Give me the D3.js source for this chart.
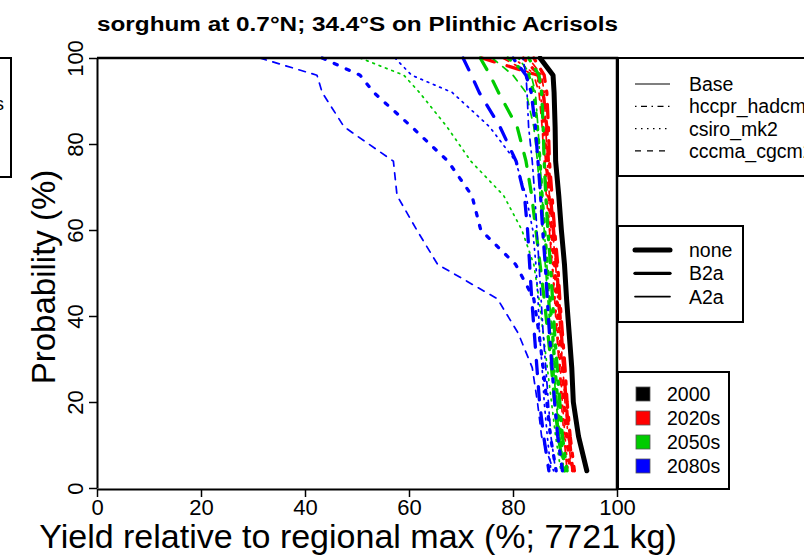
<!DOCTYPE html>
<html>
<head>
<meta charset="utf-8">
<script src="https://cdn.jsdelivr.net/npm/d3@7"></script>
<style>
  body { margin: 0; background: #fff; }
  svg { display: block; font-family: "Liberation Sans", Arial, sans-serif; }
</style>
</head>
<body>
<div id="chart"></div>
<script>
// probability levels (%) at which the yields were read
const probLevels = [100, 96, 92, 84, 76, 68, 60, 52, 44, 36, 28, 20, 12, 4];

// yield relative to regional max (%) at each probability level
const base2000 = [85.2, 87.7, 87.9, 88.1, 88.2, 88.8, 89.3, 89.9, 90.3, 90.8, 91.3, 91.6, 92.6, 94.2];

const red_hccpr_B2a = [84, 86, 86.5, 86.8, 87, 87.5, 88, 88.6, 89, 89.5, 90, 90.4, 91, 91.8];
const red_hccpr_A2a = [83, 85.5, 86, 86.3, 86.6, 87, 87.6, 88.2, 88.6, 89.1, 89.6, 90, 90.6, 91.3];
const red_csiro_B2a = [82, 85, 85.6, 86, 86.4, 86.9, 87.4, 88, 88.4, 88.9, 89.4, 89.8, 90.3, 91];
const red_csiro_A2a = [80, 84.5, 85.3, 85.8, 86.2, 86.6, 87.1, 87.6, 88.1, 88.6, 89.1, 89.5, 90, 90.6];
const red_cccma_B2a = [74, 84.8, 85.8, 86.5, 86.8, 87.2, 87.8, 88.4, 88.8, 89.3, 89.8, 90.2, 90.8, 91.5];
const red_cccma_A2a = [78, 84, 85, 85.6, 86, 86.4, 87, 87.5, 88, 88.4, 88.9, 89.3, 89.8, 90.4];

const green_hccpr_B2a = [83, 85, 85.5, 85.8, 86, 86.3, 86.7, 87.2, 87.6, 88, 88.5, 89, 89.5, 90.4];
const green_hccpr_A2a = [81, 83.5, 84.3, 84.8, 85.2, 85.6, 86, 86.5, 87, 87.5, 88, 88.5, 89, 89.8];
const green_csiro_B2a = [79, 83, 84, 84.7, 85.2, 85.6, 86.1, 86.6, 87.1, 87.6, 88.1, 88.6, 89.2, 90];
const green_csiro_A2a = [50.6, 59, 62, 67.3, 71.9, 78.2, 81.7, 84, 85, 85.8, 86.6, 87.4, 88.2, 89.2];
const green_cccma_B2a = [73.7, 75.6, 77.2, 80.8, 82.5, 83.6, 84.4, 85.2, 86, 86.7, 87.4, 88, 88.7, 89.8];
const green_cccma_A2a = [76, 80, 82.5, 84, 84.7, 85.2, 85.7, 86.2, 86.7, 87.2, 87.8, 88.3, 88.9, 89.6];

const blue_hccpr_B2a = [80, 82.5, 83.5, 84.3, 84.8, 85.3, 85.7, 86.2, 86.6, 87, 87.5, 88, 88.6, 89.5];
const blue_hccpr_A2a = [81.9, 82.5, 82.7, 83, 83.7, 84.2, 84.6, 85, 85.4, 85.8, 86.3, 86.8, 87.3, 88.2];
const blue_csiro_B2a = [43.3, 50.6, 53.2, 60.5, 67.5, 72.1, 73.8, 80.5, 84, 85, 85.8, 86.5, 87.2, 88.3];
const blue_csiro_A2a = [57.3, 60.5, 68.3, 75.5, 80.5, 82.5, 83.8, 84.4, 84.8, 85.1, 85.6, 86, 86.6, 87.3];
const blue_cccma_B2a = [70.4, 72, 73.5, 77.5, 80.6, 82.2, 82.8, 83.2, 83.6, 84.1, 84.6, 85.1, 85.9, 86.9];
const blue_cccma_A2a = [31.3, 42.3, 43.3, 47.5, 57, 57.7, 61.5, 65.5, 77, 81, 83.7, 84.7, 85.5, 87.8];

const xTicks = [0, 20, 40, 60, 80, 100];
const yTicks = [0, 20, 40, 60, 80, 100];

const gcmNames = ["Base", "hccpr_hadcm3", "csiro_mk2", "cccma_cgcm2"];
const scenNames = ["none", "B2a", "A2a"];
const periodNames = ["2000", "2020s", "2050s", "2080s"];
const periodColors = ["#000000", "#ff0000", "#00cc00", "#0000ff"];

// line styles
const scenWidth = { none: 5, B2a: 3.3, A2a: 1.7 };
function dashFor(gcm, w) {
  if (gcm === "hccpr_hadcm3") return [1 * w, 3 * w, 4 * w, 3 * w].join(",");
  if (gcm === "csiro_mk2") return [1 * w, 3 * w].join(",");
  if (gcm === "cccma_cgcm2") return [4 * w, 4 * w].join(",");
  return null;
}

// table of series built from the arrays above
const series = [
  { period: "2020s", gcm: "hccpr_hadcm3", scen: "B2a", values: red_hccpr_B2a },
  { period: "2020s", gcm: "hccpr_hadcm3", scen: "A2a", values: red_hccpr_A2a },
  { period: "2020s", gcm: "csiro_mk2", scen: "B2a", values: red_csiro_B2a },
  { period: "2020s", gcm: "csiro_mk2", scen: "A2a", values: red_csiro_A2a },
  { period: "2020s", gcm: "cccma_cgcm2", scen: "B2a", values: red_cccma_B2a },
  { period: "2020s", gcm: "cccma_cgcm2", scen: "A2a", values: red_cccma_A2a },
  { period: "2050s", gcm: "hccpr_hadcm3", scen: "B2a", values: green_hccpr_B2a },
  { period: "2050s", gcm: "hccpr_hadcm3", scen: "A2a", values: green_hccpr_A2a },
  { period: "2050s", gcm: "csiro_mk2", scen: "B2a", values: green_csiro_B2a },
  { period: "2050s", gcm: "csiro_mk2", scen: "A2a", values: green_csiro_A2a },
  { period: "2050s", gcm: "cccma_cgcm2", scen: "B2a", values: green_cccma_B2a },
  { period: "2050s", gcm: "cccma_cgcm2", scen: "A2a", values: green_cccma_A2a },
  { period: "2080s", gcm: "hccpr_hadcm3", scen: "B2a", values: blue_hccpr_B2a },
  { period: "2080s", gcm: "hccpr_hadcm3", scen: "A2a", values: blue_hccpr_A2a },
  { period: "2080s", gcm: "csiro_mk2", scen: "B2a", values: blue_csiro_B2a },
  { period: "2080s", gcm: "csiro_mk2", scen: "A2a", values: blue_csiro_A2a },
  { period: "2080s", gcm: "cccma_cgcm2", scen: "B2a", values: blue_cccma_B2a },
  { period: "2080s", gcm: "cccma_cgcm2", scen: "A2a", values: blue_cccma_A2a },
  { period: "2000", gcm: "Base", scen: "none", values: base2000 }
];

const W = 804, H = 556;
const svg = d3.select("#chart").append("svg")
  .attr("width", W)
  .attr("height", H);

const x = d3.scaleLinear().domain([0, 100]).range([97, 617]);
const y = d3.scaleLinear().domain([0, 100]).range([488, 58]);
const color = d3.scaleOrdinal().domain(periodNames).range(periodColors);

// title
svg.append("text")
  .attr("x", 97)
  .attr("y", 31)
  .attr("font-size", "20px")
  .attr("font-weight", "bold")
  .attr("textLength", 521)
  .attr("lengthAdjust", "spacingAndGlyphs")
  .text("sorghum at 0.7°N; 34.4°S on Plinthic Acrisols");

// cut-off legend box from the neighbouring panel
svg.append("rect")
  .attr("x", -50).attr("y", 58)
  .attr("width", 61).attr("height", 119)
  .attr("fill", "none").attr("stroke", "#000").attr("stroke-width", 2);
svg.append("text")
  .attr("x", 4).attr("y", 110)
  .attr("text-anchor", "end")
  .attr("font-size", "19px")
  .text("s");

// clip for the curves
svg.append("clipPath").attr("id", "plotclip")
  .append("rect")
  .attr("x", 97).attr("y", 56)
  .attr("width", 520).attr("height", 436);

const line = d3.line()
  .x(d => x(d[0]))
  .y(d => y(d[1]));

svg.append("g")
  .attr("clip-path", "url(#plotclip)")
  .selectAll("path")
  .data(series)
  .enter()
  .append("path")
  .attr("d", d => line(d.values.map((v, i) => [v, probLevels[i]])))
  .attr("fill", "none")
  .attr("stroke", d => color(d.period))
  .attr("stroke-width", d => scenWidth[d.scen])
  .attr("stroke-dasharray", d => dashFor(d.gcm, scenWidth[d.scen]))
  .attr("stroke-linecap", "round")
  .attr("stroke-linejoin", "round");

// x axis
const xAxis = svg.append("g")
  .attr("transform", "translate(0,489)")
  .call(d3.axisBottom(x).tickValues(xTicks).tickSize(8).tickSizeOuter(0).tickPadding(2));
xAxis.select(".domain").attr("stroke-width", 2);
xAxis.selectAll(".tick line").attr("stroke-width", 1.5);
xAxis.selectAll("text")
  .attr("font-size", "22px")
  .attr("font-family", "Liberation Sans, Arial, sans-serif")
  .attr("fill", "#000");

// y axis with rotated labels
const yAxis = svg.append("g")
  .attr("transform", "translate(97,0)")
  .call(d3.axisLeft(y).tickValues(yTicks).tickSize(8).tickSizeOuter(0));
yAxis.select(".domain").attr("stroke-width", 2);
yAxis.selectAll(".tick line").attr("stroke-width", 1.5);
yAxis.selectAll("text")
  .attr("transform", "rotate(-90)")
  .attr("x", 0)
  .attr("y", -14)
  .attr("dy", 0)
  .attr("text-anchor", "middle")
  .attr("font-size", "22px")
  .attr("font-family", "Liberation Sans, Arial, sans-serif")
  .attr("fill", "#000");

// top and right frame
svg.append("path")
  .attr("d", `M${x(0)},${y(100)}H${x(100)}V${y(0) + 1}`)
  .attr("fill", "none")
  .attr("stroke", "#000")
  .attr("stroke-width", 2.5);

// axis titles
svg.append("text")
  .attr("x", 358)
  .attr("y", 548)
  .attr("text-anchor", "middle")
  .attr("font-size", "34px")
  .text("Yield relative to regional max (%; 7721 kg)");

svg.append("text")
  .attr("transform", "translate(55,277) rotate(-90)")
  .attr("text-anchor", "middle")
  .attr("font-size", "33px")
  .text("Probability (%)");

// legend 1: GCM line types
const leg1 = svg.append("g");
leg1.append("rect")
  .attr("x", 618).attr("y", 58)
  .attr("width", 220).attr("height", 118)
  .attr("fill", "#fff").attr("stroke", "#000").attr("stroke-width", 2);
leg1.selectAll("line")
  .data(gcmNames)
  .enter()
  .append("line")
  .attr("x1", 635).attr("x2", 670)
  .attr("y1", (d, i) => 84 + i * 22.3)
  .attr("y2", (d, i) => 84 + i * 22.3)
  .attr("stroke", "#000")
  .attr("stroke-width", 1.2)
  .attr("stroke-dasharray", d => dashFor(d, 1.5));
leg1.selectAll("text")
  .data(gcmNames)
  .enter()
  .append("text")
  .attr("x", 689)
  .attr("y", (d, i) => 84 + i * 22.3 + 7)
  .attr("font-size", "19.5px")
  .text(d => d);

// legend 2: scenarios (line width)
const leg2 = svg.append("g");
leg2.append("rect")
  .attr("x", 618).attr("y", 226)
  .attr("width", 125).attr("height", 96)
  .attr("fill", "#fff").attr("stroke", "#000").attr("stroke-width", 2);
leg2.selectAll("line")
  .data(scenNames)
  .enter()
  .append("line")
  .attr("x1", 635).attr("x2", 670)
  .attr("y1", (d, i) => 250 + i * 23.3)
  .attr("y2", (d, i) => 250 + i * 23.3)
  .attr("stroke", "#000")
  .attr("stroke-width", d => scenWidth[d])
  .attr("stroke-linecap", "round");
leg2.selectAll("text")
  .data(scenNames)
  .enter()
  .append("text")
  .attr("x", 689)
  .attr("y", (d, i) => 250 + i * 23.3 + 7)
  .attr("font-size", "19.5px")
  .text(d => d);

// legend 3: time periods (colour)
const leg3 = svg.append("g");
leg3.append("rect")
  .attr("x", 618).attr("y", 372)
  .attr("width", 111).attr("height", 117)
  .attr("fill", "#fff").attr("stroke", "#000").attr("stroke-width", 2);
leg3.selectAll("rect.key")
  .data(periodNames)
  .enter()
  .append("rect")
  .attr("class", "key")
  .attr("x", 636)
  .attr("y", (d, i) => 394 + i * 24 - 7)
  .attr("width", 14).attr("height", 14)
  .attr("fill", d => color(d))
  .attr("stroke", "#555").attr("stroke-width", 0.8);
leg3.selectAll("text")
  .data(periodNames)
  .enter()
  .append("text")
  .attr("x", 667)
  .attr("y", (d, i) => 394 + i * 24 + 7)
  .attr("font-size", "19.5px")
  .text(d => d);
</script>
</body>
</html>
